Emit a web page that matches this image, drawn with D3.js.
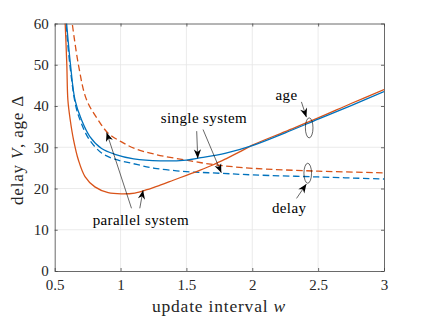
<!DOCTYPE html>
<html><head><meta charset="utf-8">
<script src="https://cdn.jsdelivr.net/npm/d3@7"></script>
<style>
html,body{margin:0;padding:0;background:#fff;}
svg{display:block;font-family:"Liberation Serif","Times New Roman",serif;}
</style></head>
<body>
<script>
// ---- data ----
const xTicks = [0.5, 1, 1.5, 2, 2.5, 3];
const yTicks = [0, 10, 20, 30, 40, 50, 60];
const xTickLabels = ["0.5", "1", "1.5", "2", "2.5", "3"];
const yTickLabels = ["0", "10", "20", "30", "40", "50", "60"];

const singleAgeW = [0.585, 0.62, 0.654, 0.704, 0.767, 0.856, 0.957, 1.1, 1.3, 1.5, 1.6, 1.8, 2.0, 2.25, 2.5, 2.75, 3.0];
const singleAgeV = [62, 50, 41.5, 36.6, 32.6, 29.7, 28.3, 27.2, 26.7, 26.9, 27.4, 28.6, 30.4, 33.5, 36.8, 40.1, 43.5];

const singleDelayW = [0.58, 0.615, 0.66, 0.70, 0.76, 0.856, 0.957, 1.1, 1.26, 1.5, 1.75, 2.0, 2.5, 3.0];
const singleDelayV = [62, 50, 40, 36, 32, 28.6, 27.1, 26.0, 24.9, 24.1, 23.7, 23.3, 22.8, 22.3];

const parallelAgeW = [0.577, 0.592, 0.6, 0.618, 0.643, 0.68, 0.73, 0.805, 0.906, 1.007, 1.108, 1.2, 1.3, 1.4, 1.5, 1.6, 1.7, 1.8, 1.9, 2.0, 2.25, 2.5, 2.75, 3.0];
const parallelAgeV = [62, 50, 41.5, 36.6, 31.8, 26.9, 22.9, 20.4, 19.0, 18.7, 18.9, 19.7, 20.8, 22.0, 23.2, 24.4, 25.7, 27.2, 28.8, 30.5, 33.8, 37.1, 40.6, 44.0];

const parallelDelayW = [0.625, 0.68, 0.742, 0.83, 0.906, 1.007, 1.108, 1.26, 1.51, 1.73, 2.0, 2.5, 3.0];
const parallelDelayV = [62, 50, 41.5, 36.6, 33.4, 31.3, 29.7, 28.3, 26.8, 25.7, 24.9, 24.2, 23.8];

// annotations in data coordinates
const arrows = [
  {x1: 1.578, y1: 33.9, x2: 1.586, y2: 27.3},
  {x1: 1.626, y1: 34.3, x2: 1.765, y2: 23.8},
  {x1: 1.083, y1: 15.2, x2: 0.894, y2: 33.6},
  {x1: 1.146, y1: 15.2, x2: 1.171, y2: 19.6},
  {x1: 2.373, y1: 41.0, x2: 2.411, y2: 37.3},
  {x1: 2.336, y1: 17.6, x2: 2.411, y2: 21.1}
];
const labels = [
  {text: "single system", x: 1.633, y: 35.9},
  {text: "parallel system", x: 1.154, y: 11.15},
  {text: "age", x: 2.26, y: 41.5},
  {text: "delay", x: 2.28, y: 14.1}
];
const ellipses = [
  {x: 2.432, y: 34.7},
  {x: 2.421, y: 23.7}
];

// ---- layout ----
const W = 424, H = 318;
const m = {left: 54.7, right: 40, top: 23.5, bottom: 47};
const svg = d3.select("body").append("svg").attr("width", W).attr("height", H);

const x = d3.scaleLinear().domain([0.5, 3]).range([m.left, W - m.right]);
const y = d3.scaleLinear().domain([0, 60]).range([H - m.bottom, m.top]);

const gridColor = "#e6e6e6", axisColor = "#444444";

// grid
svg.append("g").selectAll("line").data(xTicks.slice(1, -1)).join("line")
  .attr("x1", d => x(d)).attr("x2", d => x(d)).attr("y1", y(0)).attr("y2", y(60))
  .attr("stroke", gridColor).attr("stroke-width", 0.8);
svg.append("g").selectAll("line").data(yTicks.slice(1, -1)).join("line")
  .attr("y1", d => y(d)).attr("y2", d => y(d)).attr("x1", x(0.5)).attr("x2", x(3))
  .attr("stroke", gridColor).attr("stroke-width", 0.8);

// lines
svg.append("clipPath").attr("id", "clip").append("rect")
  .attr("x", x(0.5)).attr("y", y(60)).attr("width", x(3) - x(0.5)).attr("height", y(0) - y(60));

const line = d3.line().x(d => x(d[0])).y(d => y(d[1])).curve(d3.curveCatmullRom.alpha(0.5));
const series = [
  {w: parallelDelayW, v: parallelDelayV, color: "#D95319", dash: "6.5,3.5"},
  {w: singleDelayW, v: singleDelayV, color: "#0072BD", dash: "6.5,3.5"},
  {w: parallelAgeW, v: parallelAgeV, color: "#D95319", dash: null},
  {w: singleAgeW, v: singleAgeV, color: "#0072BD", dash: null}
];
const lg = svg.append("g").attr("clip-path", "url(#clip)");
series.forEach(s => {
  lg.append("path").datum(s.w.map((d, i) => [d, s.v[i]]))
    .attr("d", line).attr("fill", "none").attr("stroke", s.color)
    .attr("stroke-width", 1.3).attr("stroke-dasharray", s.dash);
});

// axes (inward ticks, box)
const tickLen = 3;
const axB = d3.axisBottom(x).tickValues(xTicks).tickFormat((d, i) => xTickLabels[i]).tickSizeInner(-tickLen).tickSizeOuter(0).tickPadding(8);
const axT = d3.axisTop(x).tickValues(xTicks).tickFormat("").tickSizeInner(-tickLen).tickSizeOuter(0);
const axL = d3.axisLeft(y).tickValues(yTicks).tickFormat((d, i) => yTickLabels[i]).tickSizeInner(-tickLen).tickSizeOuter(0).tickPadding(6);
const axR = d3.axisRight(y).tickValues(yTicks).tickFormat("").tickSizeInner(-tickLen).tickSizeOuter(0);

function styleAxis(g) {
  g.select(".domain").attr("stroke", axisColor).attr("stroke-width", 0.8);
  g.selectAll(".tick line").attr("stroke", axisColor).attr("stroke-width", 0.8);
  g.selectAll(".tick text").attr("fill", "#262626").style("font-size", "15px")
    .style("font-family", "'Liberation Serif', serif");
}
svg.append("g").attr("transform", `translate(0,${y(0)})`).call(axB).call(styleAxis);
svg.append("g").attr("transform", `translate(0,${y(60)})`).call(axT).call(styleAxis);
svg.append("g").attr("transform", `translate(${x(0.5)},0)`).call(axL).call(styleAxis);
svg.append("g").attr("transform", `translate(${x(3)},0)`).call(axR).call(styleAxis);

// axis labels
svg.append("text").attr("x", 219).attr("y", 312)
  .attr("text-anchor", "middle").attr("fill", "#262626").style("font-size", "17.5px")
  .style("letter-spacing", "0.8px")
  .html('update interval <tspan font-style="italic">w</tspan>');
svg.append("text").attr("transform", `translate(22.5,${150}) rotate(-90)`)
  .attr("text-anchor", "middle").attr("fill", "#262626").style("font-size", "17px")
  .style("letter-spacing", "0.8px")
  .html('delay <tspan font-style="italic">V</tspan>, age Δ');

// arrow marker
const defs = svg.append("defs");
defs.append("marker").attr("id", "ah").attr("markerUnits", "userSpaceOnUse")
  .attr("viewBox", "-10 -5 11 10").attr("refX", 0).attr("refY", 0)
  .attr("markerWidth", 11).attr("markerHeight", 10).attr("orient", "auto")
  .append("path").attr("d", "M0,0 L-9,-3.6 L-6.3,0 L-9,3.6 Z").attr("fill", "#000");

svg.append("g").selectAll("line").data(arrows).join("line")
  .attr("x1", d => x(d.x1)).attr("y1", d => y(d.y1))
  .attr("x2", d => x(d.x2)).attr("y2", d => y(d.y2))
  .attr("stroke", "#000").attr("stroke-width", 0.6).attr("marker-end", "url(#ah)");

svg.append("g").selectAll("ellipse").data(ellipses).join("ellipse")
  .attr("cx", d => x(d.x)).attr("cy", d => y(d.y)).attr("rx", 3.8).attr("ry", 10)
  .attr("fill", "none").attr("stroke", "#000").attr("stroke-width", 0.6);

svg.append("g").selectAll("text").data(labels).join("text")
  .attr("x", d => x(d.x)).attr("y", d => y(d.y)).attr("text-anchor", "middle")
  .attr("fill", "#000").style("font-size", "15px").style("letter-spacing", "0.4px")
  .text(d => d.text);
</script>
</body></html>
